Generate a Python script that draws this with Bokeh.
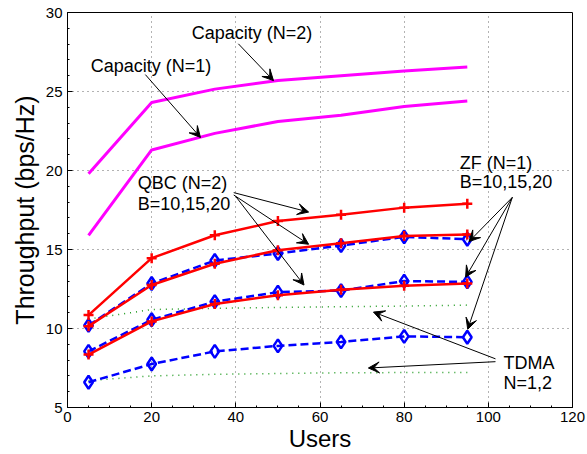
from bokeh.plotting import figure
from bokeh.models import (Range1d, FixedTicker, Label, Arrow, VeeHead)
from bokeh.embed import file_html
from bokeh.resources import INLINE

# ---------------- data ----------------
users = [5, 20, 35, 50, 65, 80, 95]
cap_n2 = [19.8, 24.3, 25.15, 25.7, 26.0, 26.3, 26.55]
cap_n1 = [15.9, 21.3, 22.35, 23.1, 23.5, 24.05, 24.4]
qbc_b20 = [10.85, 14.45, 15.9, 16.8, 17.2, 17.65, 17.9]
qbc_b15 = [10.15, 12.75, 14.1, 14.95, 15.4, 15.85, 15.95]
qbc_b10 = [8.35, 10.45, 11.55, 12.1, 12.45, 12.7, 12.85]
zf_b20 = [10.2, 12.85, 14.3, 14.75, 15.25, 15.8, 15.65]
zf_b15 = [8.55, 10.55, 11.7, 12.3, 12.4, 13.0, 12.95]
zf_b10 = [6.6, 7.75, 8.55, 8.9, 9.15, 9.5, 9.45]
tdma_n2 = [10.6, 11.2, 11.28, 11.33, 11.38, 11.42, 11.48]
tdma_n1 = [6.7, 7.0, 7.1, 7.15, 7.2, 7.21, 7.22]

x_ticks = [0, 20, 40, 60, 80, 100, 120]
y_ticks = [5, 10, 15, 20, 25, 30]

# annotation texts: (text, x, y)
texts = [
    ("Capacity (N=2)", 29.5, 28.72),
    ("Capacity (N=1)", 5.5, 26.64),
    ("QBC (N=2)", 16.7, 19.2),
    ("B=10,15,20", 16.7, 17.9),
    ("ZF (N=1)", 93.2, 20.5),
    ("B=10,15,20", 93.2, 19.25),
    ("TDMA", 103.6, 7.82),
    ("N=1,2", 103.6, 6.58),
]
# arrows: (x_start, y_start, x_end, y_end)
arrows = [
    (40.6, 28.02, 48.95, 25.69),
    (18.5, 26.07, 31.6, 22.09),
    (39.5, 18.6, 57.3, 17.37),
    (39.5, 18.45, 57.3, 15.33),
    (40.0, 18.35, 56.2, 12.75),
    (105.7, 18.3, 95.4, 15.5),
    (105.7, 18.3, 94.6, 13.25),
    (105.7, 18.3, 95.1, 9.95),
    (101.7, 8.08, 72.7, 11.04),
    (101.7, 7.9, 71.5, 7.5),
]

FONT = "Liberation Sans"

p = figure(width=587, height=454, output_backend="svg", toolbar_location=None,
           x_range=Range1d(0, 120), y_range=Range1d(5, 30),
           min_border_left=67, min_border_right=15, min_border_top=12,
           min_border_bottom=46)
p.background_fill_color = "white"
p.border_fill_color = "white"
p.outline_line_color = "black"
p.outline_line_width = 1

xt = FixedTicker(ticks=x_ticks, minor_ticks=list(range(0, 121, 5)))
yt = FixedTicker(ticks=y_ticks, minor_ticks=list(range(5, 31, 1)))

for ax, t in ((p.xaxis[0], xt), (p.yaxis[0], yt)):
    ax.ticker = t
    ax.major_tick_in = 5
    ax.major_tick_out = 0
    ax.minor_tick_in = 2
    ax.minor_tick_out = 0
    ax.axis_line_color = "black"
    ax.major_tick_line_color = "black"
    ax.minor_tick_line_color = "black"
    ax.major_label_text_font = FONT
    ax.major_label_text_font_size = "15px"
    ax.major_label_text_color = "black"
    ax.axis_label_text_font = FONT
    ax.axis_label_text_font_style = "normal"
    ax.axis_label_text_color = "black"

p.xaxis.axis_label = "Users"
p.xaxis.axis_label_text_font_size = "24px"
p.xaxis.major_label_standoff = 4
p.xaxis.axis_label_standoff = 0
p.yaxis.axis_label = "Throughput (bps/Hz)"
p.yaxis.axis_label_text_font_size = "25px"
p.yaxis.major_label_standoff = 5
p.yaxis.axis_label_standoff = 4

for g in (p.xgrid[0], p.ygrid[0]):
    g.grid_line_color = "black"
    g.grid_line_alpha = 0.6
    g.grid_line_dash = "1 4"
    g.grid_line_width = 1

# capacity
p.line(users, cap_n2, line_color="#ff00ff", line_width=3)
p.line(users, cap_n1, line_color="#ff00ff", line_width=3)

# TDMA
p.line(users, tdma_n2, line_color="#1f9a1f", line_width=1.5, line_dash="1 5")
p.line(users, tdma_n1, line_color="#1f9a1f", line_width=1.5, line_dash="1 5")

# ZF
for s in (zf_b20, zf_b15, zf_b10):
    p.line(users, s, line_color="#0000ff", line_width=2.5, line_dash="8 4")
    p.scatter(users, s, marker="diamond", size=13, fill_color=None,
              line_color="#0000ff", line_width=2.5)

# QBC
for s in (qbc_b20, qbc_b15, qbc_b10):
    p.line(users, s, line_color="#ff0000", line_width=2.5)
    p.scatter(users, s, marker="cross", size=10, line_color="#ff0000", line_width=2.5)

for txt, tx, ty in texts:
    p.add_layout(Label(x=tx, y=ty, text=txt, text_font=FONT, text_font_size="18px",
                       text_color="black", text_align="left", text_baseline="middle"))

for xs, ys, xe, ye in arrows:
    p.add_layout(Arrow(x_start=xs, y_start=ys, x_end=xe, y_end=ye, line_width=1,
                       line_color="black",
                       end=VeeHead(size=11, fill_color="black", line_color="black",
                                   line_width=1)))

open("out.html", "w").write(file_html(p, INLINE))
